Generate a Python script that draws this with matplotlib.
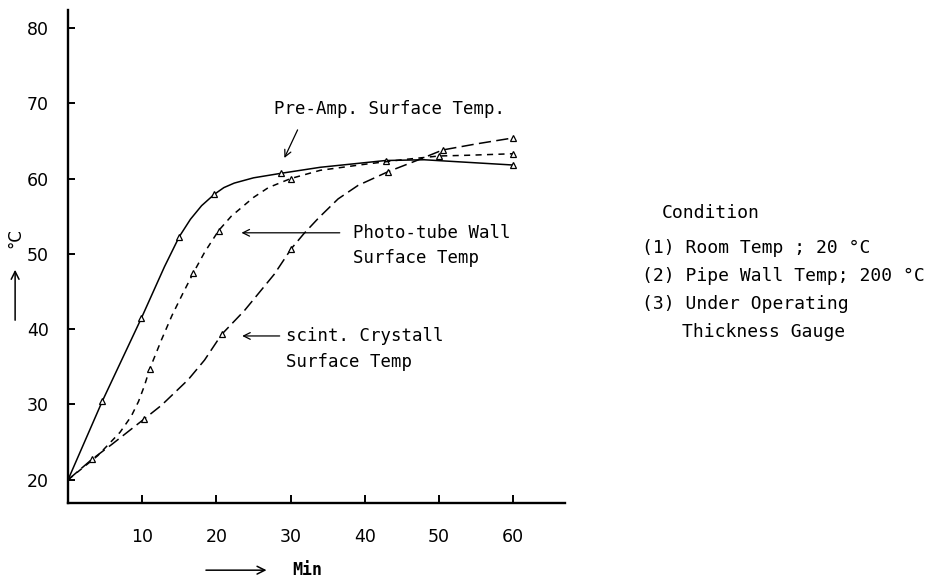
import matplotlib
matplotlib.use("Agg")
import matplotlib.pyplot as plt

# time in minutes, temperature in deg C
pre_t = [0, 4.6, 9.9, 13, 15, 16.5, 18, 19.7, 21, 22.4, 25, 28.7, 34, 42.8, 48, 60]
pre_T = [20, 30.4, 41.5, 48.3, 52.3, 54.6, 56.4, 57.9, 58.8, 59.4, 60.1, 60.7, 61.5, 62.4, 62.5, 61.8]
pre_marks = [1, 2, 4, 7, 11, 13, 15]

photo_t = [0, 4, 7, 8.5, 9.5, 10.3, 11, 12.6, 14, 15.5, 16.9, 18.4, 20.3, 22, 25, 27, 30,
           34, 40, 45, 50, 54, 60]
photo_T = [20, 23.2, 26.3, 28.4, 30.4, 32.5, 34.7, 38.6, 41.8, 44.8, 47.5, 50.2, 53.1, 55,
           57.5, 58.8, 60, 61.1, 61.9, 62.5, 63, 63.1, 63.3]
photo_marks = [6, 10, 12, 16, 20, 22]

scint_t = [0, 3.2, 5.9, 10.3, 12.6, 16.2, 18.4, 20.7, 23.8, 27.8, 30.1, 31.8, 33.8, 36.4,
           39.1, 43.1, 47, 50.5, 55, 60]
scint_T = [20, 22.7, 24.7, 28.1, 29.9, 33.3, 35.9, 39.3, 42.5, 47.3, 50.7, 52.7, 54.8, 57.3,
           59.1, 60.9, 62.4, 63.8, 64.6, 65.4]
scint_marks = [1, 3, 7, 10, 15, 17, 19]

x_ticks = [10, 20, 30, 40, 50, 60]
y_ticks = [20, 30, 40, 50, 60, 70, 80]

condition_lines = [
    "(1) Room Temp ; 20 \u00b0C",
    "(2) Pipe Wall Temp; 200 \u00b0C",
    "(3) Under Operating",
]

mono = "DejaVu Sans Mono"

fig = plt.figure(figsize=(9.45, 5.83), dpi=100)
ax = fig.add_axes([0.072, 0.137, 0.526, 0.846])

mk = dict(marker="^", markersize=5, markerfacecolor="white",
          markeredgecolor="black", markeredgewidth=0.9)
ax.plot(pre_t, pre_T, color="black", lw=1.1, markevery=pre_marks, **mk)
ax.plot(photo_t, photo_T, color="black", lw=1.1, dashes=(4, 3.5),
        markevery=photo_marks, **mk)
ax.plot(scint_t, scint_T, color="black", lw=1.1, dashes=(8, 3.5),
        markevery=scint_marks, **mk)

ax.set_xlim(0, 67)
ax.set_ylim(16.9, 82.4)
ax.set_xticks(x_ticks)
ax.set_yticks(y_ticks)
for s in ["top", "right"]:
    ax.spines[s].set_visible(False)
for s in ["left", "bottom"]:
    ax.spines[s].set_linewidth(1.7)
ax.tick_params(axis="both", direction="in", width=1.4, labelsize=12.5)
ax.tick_params(axis="x", length=6, pad=18)
ax.tick_params(axis="y", length=5, pad=14)

arrow = dict(arrowstyle="->", color="black", lw=0.9, mutation_scale=12)

# curve labels
ax.text(27.8, 69.3, "Pre-Amp. Surface Temp.", family=mono, fontsize=12.5, va="center")
ax.annotate("", xy=(29.0, 62.4), xytext=(31.1, 66.8), arrowprops=arrow)

ax.text(38.4, 52.8, "Photo-tube Wall", family=mono, fontsize=12.5, va="center")
ax.text(38.4, 49.5, "Surface Temp", family=mono, fontsize=12.5, va="center")
ax.annotate("", xy=(23.0, 52.8), xytext=(37.0, 52.8), arrowprops=arrow)

ax.text(29.4, 39.1, "scint. Crystall", family=mono, fontsize=12.5, va="center")
ax.text(29.4, 35.7, "Surface Temp", family=mono, fontsize=12.5, va="center")
ax.annotate("", xy=(23.1, 39.1), xytext=(28.9, 39.1), arrowprops=arrow)

# axis labels with arrows
fig.text(0.016, 0.592, "\u00b0C", rotation=90, fontsize=12, ha="center", va="center")
fig.add_artist(matplotlib.patches.FancyArrowPatch(
    (0.016, 0.446), (0.016, 0.542), transform=fig.transFigure,
    arrowstyle="->", lw=1.1, mutation_scale=14, color="black"))
fig.text(0.309, 0.022, "Min", family=mono, fontsize=12, fontweight="bold", va="center")
fig.add_artist(matplotlib.patches.FancyArrowPatch(
    (0.215, 0.022), (0.285, 0.022), transform=fig.transFigure,
    arrowstyle="->", lw=1.1, mutation_scale=14, color="black"))

# condition block
fig.text(0.700, 0.635, "Condition", family=mono, fontsize=13, va="center")
for i, line in enumerate(condition_lines):
    fig.text(0.679, 0.575 - i * 0.048, line, family=mono, fontsize=13, va="center")
fig.text(0.722, 0.431, "Thickness Gauge", family=mono, fontsize=13, va="center")

fig.savefig("out.png", dpi=100)
